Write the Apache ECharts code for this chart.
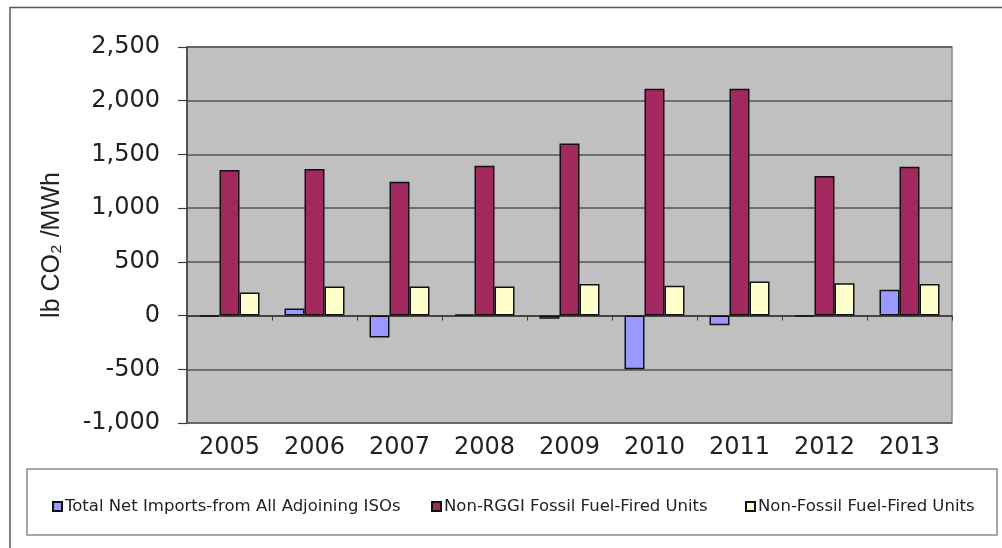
<!DOCTYPE html>
<html>
<head>
<meta charset="utf-8">
<script src="https://cdn.jsdelivr.net/npm/echarts@6/dist/echarts.min.js"></script>
<style>
  html, body { margin: 0; padding: 0; background: #ffffff; }
  #chart { width: 1002px; height: 548px; }
</style>
</head>
<body>
<div id="chart"></div>
<script>
// Emission rates (lb CO2/MWh) by year and source
const years = ['2005', '2006', '2007', '2008', '2009', '2010', '2011', '2012', '2013'];
const seriesNames = [
  'Total Net Imports-from All Adjoining ISOs',
  'Non-RGGI Fossil Fuel-Fired Units',
  'Non-Fossil Fuel-Fired Units'
];
const netImports = [-10, 65, -205, 12, -30, -500, -90, -10, 240];
const nonRggiFossil = [1355, 1364, 1246, 1394, 1602, 2111, 2111, 1299, 1385];
const nonFossil = [215, 270, 270, 270, 293, 278, 318, 300, 293];
const yTicks = [-1000, -500, 0, 500, 1000, 1500, 2000, 2500];

const colors = ['#9999ff', '#a3285f', '#ffffcc'];
const values = [netImports, nonRggiFossil, nonFossil];

const fmt = v => {
  const s = Math.abs(v).toString().replace(/\B(?=(\d{3})+(?!\d))/g, ',');
  return (v < 0 ? '-' : '') + s;
};

const chart = echarts.init(document.getElementById('chart'), null, { renderer: 'canvas' });

const legendLefts = [47, 426, 740];

chart.setOption({
  animation: false,
  backgroundColor: '#ffffff',
  graphic: [
    // outer frame (top and left edges)
    { type: 'polyline', silent: true, z: 0,
      shape: { points: [[10, 548], [10, 7.5], [1002, 7.5]] },
      style: { stroke: '#5a5a5a', lineWidth: 1.5, fill: null } },
    // legend box
    { type: 'rect', silent: true, z: 0,
      shape: { x: 27, y: 469, width: 970, height: 66 },
      style: { stroke: '#8a8a8a', lineWidth: 1.5, fill: '#ffffff' } }
  ],
  legend: seriesNames.map((n, i) => ({
    data: [n],
    left: legendLefts[i],
    top: 493,
    itemWidth: 9,
    itemHeight: 9,
    itemGap: 0,
    icon: 'rect',
    textStyle: { fontFamily: 'DejaVu Sans', fontSize: 16.5, color: '#222', padding: [0, 0, 0, -2] }
  })),
  grid: {
    left: 187, right: 50, top: 47, bottom: 125,
    show: true, backgroundColor: '#c0c0c0', borderColor: '#8a8a8a', borderWidth: 1.5
  },
  xAxis: [
    {
      type: 'category', data: years, position: 'bottom',
      axisLine: { onZero: true, lineStyle: { color: '#3a3a3a', width: 1.5 } },
      axisTick: { show: true, length: 5, lineStyle: { color: '#3a3a3a', width: 1 } },
      axisLabel: { show: false },
      splitLine: { show: false }
    },
    {
      type: 'category', data: years, position: 'bottom',
      axisLine: { show: false, onZero: false },
      axisTick: { show: false },
      axisLabel: { show: true, margin: 13, fontFamily: 'DejaVu Sans', fontSize: 24, color: '#222' },
      splitLine: { show: false }
    }
  ],
  yAxis: {
    type: 'value',
    min: yTicks[0], max: yTicks[yTicks.length - 1], interval: 500,
    name: 'lb CO\u2082 /MWh',
    nameLocation: 'middle',
    nameGap: 122,
    nameTextStyle: { fontFamily: 'Liberation Sans', fontSize: 25, color: '#222', padding: [0, 20, 0, 0] },
    axisLine: { show: true, lineStyle: { color: '#3a3a3a', width: 1.5 } },
    axisTick: { show: true, length: 9, lineStyle: { color: '#3a3a3a', width: 1.2 } },
    axisLabel: { margin: 27, fontFamily: 'DejaVu Sans', fontSize: 24, color: '#222', formatter: fmt },
    splitLine: { show: true, lineStyle: { color: '#555555', width: 1.5 } }
  },
  series: seriesNames.map((n, i) => ({
    name: n,
    type: 'bar',
    xAxisIndex: 0,
    data: values[i],
    barWidth: 20,
    barGap: '0%',
    itemStyle: { color: colors[i], borderColor: '#111', borderWidth: 1.5 }
  }))
});
</script>
</body>
</html>
